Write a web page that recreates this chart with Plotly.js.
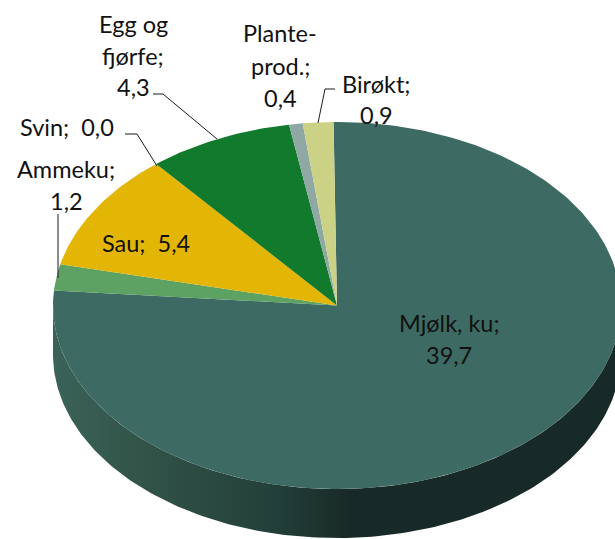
<!DOCTYPE html>
<html><head><meta charset="utf-8">
<script src="https://cdn.plot.ly/plotly-3.0.1.min.js"></script>
<style>html,body{margin:0;padding:0;background:#fff;overflow:hidden}</style>
</head><body><div id="chart" style="width:615px;height:539px"></div>
<script>
const categories = ["Mjølk, ku","Ammeku","Sau","Svin","Egg og fjørfe","Planteprod.","Birøkt"];
const values = [39.7,1.2,5.4,0.0,4.3,0.4,0.9];
const sliceColors = ["#3d6b63","#5da163","#e3b505","#4a7a70","#127a2c","#8fa8a4","#cbd286"];
const labelLines = [["Mjølk, ku;"],["Ammeku;"],["Sau;  "],["Svin;  "],["Egg og","fjørfe;"],["Plante-","prod.;"],["Birøkt;"]];
const labelAnchors = [[449,323,32],[66,169,32],[146,243,0],[67,127,0],[133,24,31.5],[280,33,32.5],[376,84,31]];
const leaders = [null,[[58,214],[58,278]],null,[[125,134],[137,134],[157,166]],[[153,94],[163,94],[217,139]],null,[[335,89],[325,89],[318,123]]];

const cx=337, cy=305.5, rx=284, ry=183.5, depth=49, startDeg=-0.7;
const total = values.reduce((a,b)=>a+b,0);
const pt=(deg,dy=0)=>{const t=deg*Math.PI/180;return [cx+rx*Math.sin(t),cy-ry*Math.cos(t)+dy];};
const arc=(a,b,dy=0)=>{const n=Math.max(2,Math.ceil(Math.abs(b-a)));const o=[];for(let i=0;i<=n;i++)o.push(pt(a+(b-a)*i/n,dy));return o;};

const traces=[];
// side wall
const side=arc(90,270,depth).concat(arc(270,90,0));
traces.push({x:side.map(p=>p[0]),y:side.map(p=>p[1]),type:"scatter",mode:"lines",line:{width:0,color:"rgba(0,0,0,0)"},
  fill:"toself",fillgradient:{type:"horizontal",colorscale:[[0,"#3b6359"],[0.15,"#325449"],[0.4,"#223e38"],[0.52,"#182a27"],[1,"#182a27"]]},
  hoverinfo:"skip",showlegend:false});
// top face
let acc=0;
values.forEach((v,i)=>{
  const a=startDeg+acc/total*360, b=startDeg+(acc+v)/total*360; acc+=v;
  if(v<=0) return;
  const p=[[cx,cy]].concat(arc(a,b)).concat([[cx,cy]]);
  traces.push({x:p.map(q=>q[0]),y:p.map(q=>q[1]),type:"scatter",mode:"lines",line:{width:0,color:sliceColors[i]},
    fill:"toself",fillcolor:sliceColors[i],name:categories[i],text:categories[i]+": "+String(v).replace(".",","),hoverinfo:"text",showlegend:false});
});
// leader lines
leaders.forEach(l=>{ if(!l) return;
  traces.push({x:l.map(q=>q[0]),y:l.map(q=>q[1]),type:"scatter",mode:"lines",line:{width:1,color:"#1a1a1a"},hoverinfo:"skip",showlegend:false});
});
// labels
const fmt=v=>v.toFixed(1).replace(".",",");
const annotations=[];
const font={family:"Lato, Carlito, sans-serif",size:23.5,color:"#111"};
values.forEach((v,i)=>{
  const [x,y,step]=labelAnchors[i];
  const lines = step>0 ? labelLines[i].concat([fmt(v)]) : [labelLines[i][0]+fmt(v)];
  lines.forEach((t,k)=>annotations.push({x:x,y:y+k*step,xref:"x",yref:"y",text:t,showarrow:false,font:font,xanchor:"center",yanchor:"middle"}));
});
const hidden={visible:false,fixedrange:true};
Plotly.newPlot("chart",traces,{
  width:615,height:539,margin:{l:0,r:0,t:0,b:0},paper_bgcolor:"#fff",plot_bgcolor:"#fff",
  xaxis:Object.assign({range:[0,615]},hidden),yaxis:Object.assign({range:[539,0]},hidden),
  annotations:annotations,showlegend:false
},{displayModeBar:false,staticPlot:true});
</script></body></html>
